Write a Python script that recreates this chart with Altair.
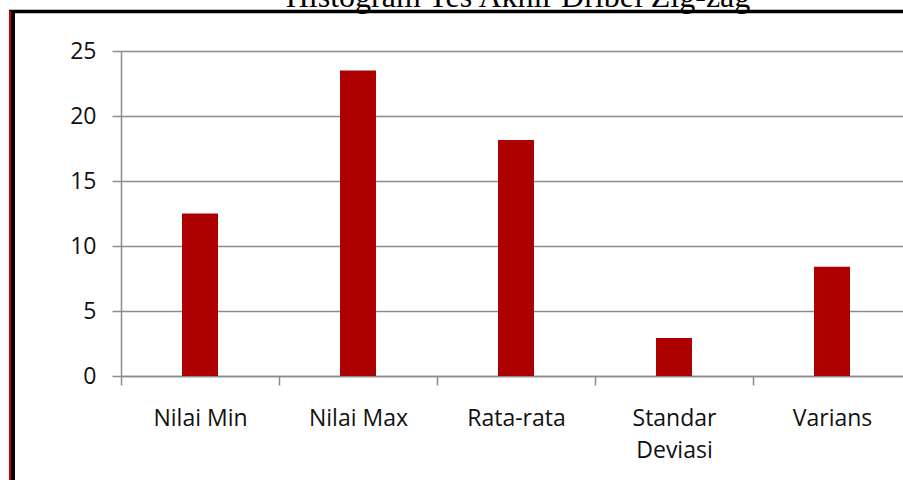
import altair as alt
import pandas as pd

categories = ["Nilai Min", "Nilai Max", "Rata-rata", "Standar Deviasi", "Varians"]
values = [12.5, 23.5, 18.15, 2.92, 8.4]
y_ticks = [0, 5, 10, 15, 20, 25]
title_text = "Histogram Tes Akhir Dribel Zig-zag"

df = pd.DataFrame({"kategori": categories, "nilai": values})
one = pd.DataFrame({"judul": [title_text]})

GRID = "#8c8c8c"
LABEL_FONT = "Open Sans"

bars = alt.Chart(df).mark_bar(color="#AD0000", size=36).encode(
    x=alt.X(
        "kategori:N",
        sort=categories,
        scale=alt.Scale(range=[0, 790], paddingInner=0, paddingOuter=0),
        axis=alt.Axis(
            title=None,
            labelAngle=0,
            labelFont=LABEL_FONT,
            labelFontSize=23,
            labelColor="#111111",
            labelPadding=22,
            labelLineHeight=32,
            labelExpr="length(datum.label) > 12 ? split(datum.label, ' ') : datum.label",
            tickBand="extent",
            tickSize=9,
            tickColor=GRID,
            tickWidth=1.5,
            domainColor=GRID,
            domainWidth=1.5,
            grid=False,
        ),
    ),
    y=alt.Y(
        "nilai:Q",
        scale=alt.Scale(domain=[0, 25], nice=False),
        axis=alt.Axis(
            title=None,
            values=y_ticks,
            labelFont=LABEL_FONT,
            labelFontSize=23,
            labelColor="#111111",
            labelPadding=16,
            tickSize=9,
            tickColor=GRID,
            tickWidth=1.5,
            domainColor=GRID,
            domainWidth=1.5,
            grid=True,
            gridColor=GRID,
            gridWidth=1.5,
        ),
    ),
)

title = alt.Chart(one).mark_text(
    font="Liberation Serif", fontSize=32, color="black",
    align="center", baseline="alphabetic",
).encode(text="judul:N", x=alt.value(397), y=alt.value(-44))

frame_top = alt.Chart(one).mark_rule(color="black", strokeWidth=3.5).encode(
    x=alt.value(-112), x2=alt.value(800), y=alt.value(-39.5)
)
frame_left = alt.Chart(one).mark_rule(color="black", strokeWidth=4).encode(
    x=alt.value(-108), y=alt.value(-41), y2=alt.value(440)
)
frame_red = alt.Chart(one).mark_rule(color="#CC0000", strokeWidth=2).encode(
    x=alt.value(-111), y=alt.value(-40), y2=alt.value(440)
)

chart = alt.layer(bars, title, frame_top, frame_left, frame_red).properties(
    width=782,
    height=325,
    autosize=alt.AutoSizeParams(type="none"),
    padding={"left": 121, "top": 51, "right": 0, "bottom": 104},
).configure_view(stroke=None).configure(background="white")

chart.save("out.html", embed_options={"renderer": "svg", "actions": False})
